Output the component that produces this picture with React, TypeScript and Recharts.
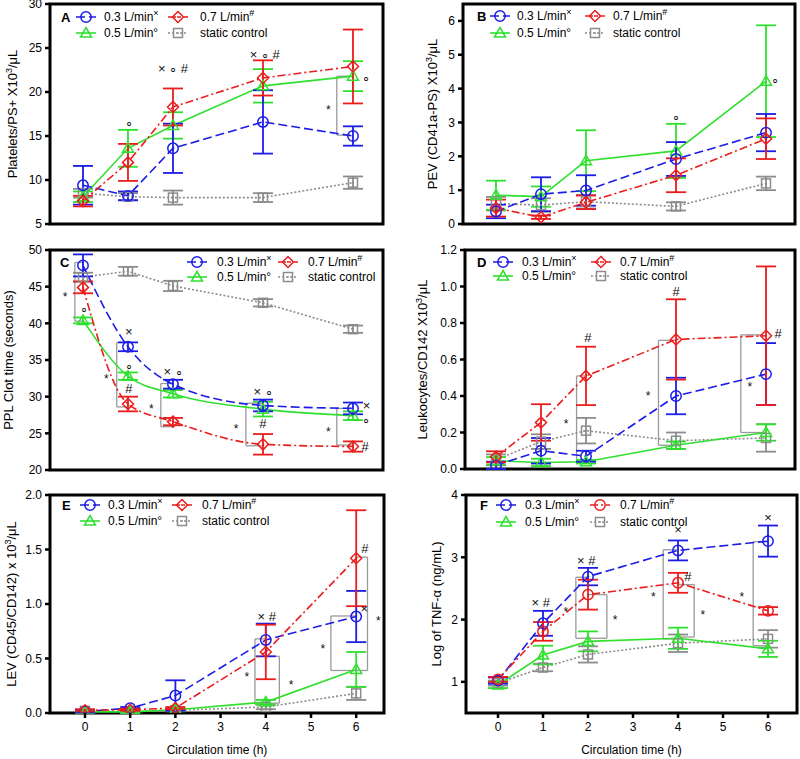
import React from "react";
import {
  ComposedChart,
  Line,
  ErrorBar,
  Scatter,
  XAxis,
  YAxis,
  ReferenceArea,
  ReferenceLine,
  Legend,
} from "recharts";

// circulation time points (h)
const times = [0, 1, 2, 4, 6];
const xTicks = [0, 1, 2, 3, 4, 5, 6];

// A - platelets/PS+
const aMean03 = [9.4, 8.2, 13.6, 16.6, 15.0];
const aErr03 = [2.2, 0.5, 2.8, 3.6, 1.1];
const aMean05 = [8.1, 13.6, 16.2, 20.7, 21.8];
const aErr05 = [0.6, 2.1, 1.5, 1.9, 1.7];
const aMean07 = [7.6, 12.0, 18.3, 21.6, 22.9];
const aErr07 = [0.6, 2.1, 2.1, 2.0, 4.2];
const aMeanSc = [8.5, 8.1, 8.0, 8.0, 9.7];
const aErrSc = [0.5, 0.4, 0.8, 0.5, 0.7];

// B - PEV
const bMean03 = [0.37, 0.88, 0.99, 1.92, 2.7];
const bErr03 = [0.2, 0.5, 0.45, 0.5, 0.55];
const bMean05 = [0.85, 0.81, 1.87, 2.16, 4.22];
const bErr05 = [0.43, 0.3, 0.9, 0.8, 1.65];
const bMean07 = [0.47, 0.2, 0.64, 1.44, 2.52];
const bErr07 = [0.25, 0.05, 0.2, 0.5, 0.6];
const bMeanSc = [0.6, 0.56, 0.66, 0.52, 1.2];
const bErrSc = [0.2, 0.2, 0.2, 0.12, 0.2];

// C - PPL clot time
const cMean03 = [47.9, 36.8, 31.7, 28.8, 28.4];
const cErr03 = [1.5, 0.6, 0.6, 0.8, 0.8];
const cMean05 = [40.4, 32.8, 30.4, 28.3, 27.4];
const cErr05 = [0.4, 0.5, 0.5, 1.0, 0.6];
const cMean07 = [44.9, 29.0, 26.6, 23.5, 23.2];
const cErr07 = [0.8, 1.0, 0.5, 1.4, 0.7];
const cMeanSc = [46.3, 47.1, 45.1, 42.8, 39.2];
const cErrSc = [0.6, 0.6, 0.7, 0.5, 0.5];

// D - leukocytes/CD142
const dMean03 = [0.02, 0.1, 0.07, 0.4, 0.52];
const dErr03 = [0.02, 0.07, 0.03, 0.1, 0.17];
const dMean05 = [0.045, 0.036, 0.04, 0.13, 0.2];
const dErr05 = [0.02, 0.02, 0.01, 0.02, 0.045];
const dMean07 = [0.067, 0.255, 0.51, 0.71, 0.73];
const dErr07 = [0.03, 0.1, 0.16, 0.22, 0.38];
const dMeanSc = [0.05, 0.15, 0.21, 0.155, 0.17];
const dErrSc = [0.03, 0.04, 0.07, 0.045, 0.075];

// E - LEV
const eMean03 = [0.015, 0.045, 0.16, 0.67, 0.885];
const eErr03 = [0.01, 0.01, 0.14, 0.15, 0.235];
const eMean05 = [0.01, 0.01, 0.03, 0.1, 0.4];
const eErr05 = [0.01, 0.01, 0.01, 0.02, 0.16];
const eMean07 = [0.025, 0.03, 0.045, 0.56, 1.42];
const eErr07 = [0.01, 0.01, 0.01, 0.25, 0.44];
const eMeanSc = [0.02, 0.01, 0.025, 0.055, 0.18];
const eErrSc = [0.01, 0.01, 0.01, 0.02, 0.06];

// F - TNF-alpha
const fMean03 = [1.02, 1.94, 2.69, 3.11, 3.26];
const fErr03 = [0.05, 0.2, 0.14, 0.16, 0.25];
const fMean05 = [0.95, 1.43, 1.65, 1.7, 1.53];
const fErr05 = [0.05, 0.15, 0.16, 0.17, 0.13];
const fMean07 = [1.04, 1.81, 2.4, 2.59, 2.14];
const fErr07 = [0.04, 0.15, 0.24, 0.16, 0.06];
const fMeanSc = [0.98, 1.23, 1.44, 1.62, 1.69];
const fErrSc = [0.04, 0.06, 0.13, 0.14, 0.14];

// significance marks (t = time, v = value where the symbol sits)
const annA = [
  { t: 2.0, v: 22.7, s: "× ∘ #" },
  { t: 1.02, v: 16.5, s: "∘" },
  { t: 4.04, v: 24.3, s: "× ∘ #" },
  { t: 6.3, v: 21.6, s: "∘" },
  { t: 5.45, v: 18.4, s: "*" },
];
const annB = [
  { t: 4.0, v: 3.17, s: "∘" },
  { t: 6.2, v: 4.28, s: "∘" },
];
const annC = [
  { t: -0.4, v: 44.2, s: "*" },
  { t: 0.02, v: 42.0, s: "∘" },
  { t: 1.02, v: 38.9, s: "×" },
  { t: 1.02, v: 34.2, s: "∘" },
  { t: 1.02, v: 31.1, s: "#" },
  { t: 0.52, v: 33.0, s: "*" },
  { t: 2.0, v: 33.5, s: "× ∘" },
  { t: 1.52, v: 28.9, s: "*" },
  { t: 4.0, v: 30.7, s: "× ∘" },
  { t: 4.0, v: 26.3, s: "#" },
  { t: 3.4, v: 26.1, s: "*" },
  { t: 6.3, v: 28.8, s: "×" },
  { t: 6.28, v: 26.9, s: "∘" },
  { t: 6.27, v: 23.2, s: "#" },
  { t: 5.45, v: 25.7, s: "*" },
];
const annD = [
  { t: 2.04, v: 0.72, s: "#" },
  { t: 4.0, v: 0.975, s: "#" },
  { t: 6.27, v: 0.74, s: "#" },
  { t: 1.56, v: 0.27, s: "*" },
  { t: 3.38, v: 0.42, s: "*" },
  { t: 5.64, v: 0.47, s: "*" },
];
const annE = [
  { t: 4.02, v: 0.885, s: "× #" },
  { t: 6.19, v: 1.51, s: "#" },
  { t: 6.18, v: 0.96, s: "×" },
  { t: 3.58, v: 0.37, s: "*" },
  { t: 4.56, v: 0.29, s: "*" },
  { t: 5.26, v: 0.626, s: "*" },
  { t: 6.49, v: 0.885, s: "*" },
];
const annF = [
  { t: 0.95, v: 2.27, s: "× #" },
  { t: 1.96, v: 2.95, s: "× #" },
  { t: 4.0, v: 3.44, s: "×" },
  { t: 4.22, v: 2.69, s: "#" },
  { t: 6.0, v: 3.64, s: "×" },
  { t: 1.51, v: 2.18, s: "*" },
  { t: 2.6, v: 2.06, s: "*" },
  { t: 3.45, v: 2.42, s: "*" },
  { t: 4.55, v: 2.14, s: "*" },
  { t: 5.42, v: 2.42, s: "*" },
];

// comparison brackets: vertical at t from y1 to y2, arms of length w
const brA = [{ t: 5.64, y1: 21.8, y2: 15.1, w: 0.3 }];
const brB: { t: number; y1: number; y2: number; w: number }[] = [];
const brC = [
  { t: -0.18, y1: 48.3, y2: 40.3, w: 0.2 },
  { t: 0.75, y1: 37.4, y2: 28.6, w: 0.25 },
  { t: 1.73, y1: 31.8, y2: 25.9, w: 0.27 },
  { t: 3.62, y1: 29.1, y2: 23.3, w: 0.38 },
  { t: 5.64, y1: 28.4, y2: 23.4, w: 0.36 },
];
const brD = [
  { t: 1.79, y1: 0.51, y2: 0.04, w: 0.22 },
  { t: 3.61, y1: 0.705, y2: 0.13, w: 0.39 },
  { t: 5.44, y1: 0.735, y2: 0.2, w: 0.5 },
];
const brE = [
  { t: 3.76, y1: 0.68, y2: 0.08, w: 0.24 },
  { t: 4.3, y1: 0.52, y2: 0.09, w: -0.3 },
  { t: 5.44, y1: 0.89, y2: 0.39, w: 0.56 },
  { t: 6.25, y1: 1.43, y2: 0.39, w: -0.25 },
];
const brF = [
  { t: 1.73, y1: 2.68, y2: 1.7, w: 0.27 },
  { t: 2.42, y1: 2.4, y2: 1.7, w: -0.42 },
  { t: 3.67, y1: 3.12, y2: 1.69, w: 0.33 },
  { t: 4.36, y1: 2.56, y2: 1.72, w: -0.36 },
  { t: 5.67, y1: 3.25, y2: 1.58, w: 0.33 },
];

const BLUE = "#1c1ce8";
const GREEN = "#2fe02f";
const RED = "#ec1c1c";
const GRAY = "#8c8c8c";
const BRACKET = "#9a9a9a";

type Shape = "circle" | "diamond" | "triangle" | "square";

const series = [
  { key: "m03", err: "e03", name: "0.3 L/min", sup: "×", color: BLUE, dash: "9 4", shape: "circle" as Shape },
  { key: "m07", err: "e07", name: "0.7 L/min", sup: "#", color: RED, dash: "8 3 2 3", shape: "diamond" as Shape },
  { key: "m05", err: "e05", name: "0.5 L/min", sup: "°", color: GREEN, dash: undefined, shape: "triangle" as Shape },
  { key: "mSc", err: "eSc", name: "static control", sup: "", color: GRAY, dash: "2 2", shape: "square" as Shape },
];
const drawOrder = [3, 2, 0, 1];

const steps = (a: number, b: number, s: number) => {
  const out: number[] = [];
  for (let v = a; v <= b + 1e-9; v += s) out.push(Math.round(v * 1000) / 1000);
  return out;
};

function Marker({ cx, cy, shape, color }: { cx?: number; cy?: number; shape: Shape; color: string }) {
  if (cx == null || cy == null || isNaN(cx) || isNaN(cy)) return null;
  const sw = 1.5;
  if (shape === "circle")
    return <circle cx={cx} cy={cy} r={5.2} fill="none" stroke={color} strokeWidth={sw} />;
  if (shape === "diamond")
    return (
      <g>
        <path d={`M${cx},${cy - 5.5}L${cx + 5.5},${cy}L${cx},${cy + 5.5}L${cx - 5.5},${cy}Z`} fill="none" stroke={color} strokeWidth={sw} />
        <circle cx={cx} cy={cy} r={1} fill={color} />
      </g>
    );
  if (shape === "triangle")
    return <path d={`M${cx},${cy - 5.5}L${cx + 5.5},${cy + 4}L${cx - 5.5},${cy + 4}Z`} fill="none" stroke={color} strokeWidth={sw} />;
  return (
    <g>
      <rect x={cx - 4.5} y={cy - 4.5} width={9} height={9} fill="none" stroke={color} strokeWidth={sw} />
      <circle cx={cx} cy={cy} r={0.9} fill={color} />
    </g>
  );
}

type Part = { t: string; sup?: boolean };

function YTitle({ px, py, parts }: { px: number; py: number; parts: Part[] }) {
  return (
    <text x={px} y={py} transform={`rotate(-90 ${px} ${py})`} textAnchor="middle" fontSize={13} fill="#000">
      {parts.map((pt, i) =>
        pt.sup ? (
          <tspan key={i} dy={-5} fontSize={9}>{pt.t}</tspan>
        ) : (
          <tspan key={i} dy={i > 0 && parts[i - 1].sup ? 5 : 0}>{pt.t}</tspan>
        )
      )}
    </text>
  );
}

function XTitle({ px, py }: { px: number; py: number }) {
  return (
    <text x={px} y={py} textAnchor="middle" fontSize={12} fill="#000">
      Circulation time (h)
    </text>
  );
}

function AnnMark(props: any) {
  const { cx, cy, payload } = props;
  if (cx == null || cy == null) return null;
  const star = payload.s === "*";
  return (
    <text x={cx} y={cy} dy={star ? 4 : 0} textAnchor="middle" dominantBaseline="central" fontSize={star ? 12 : 13} fill="#111">
      {payload.s}
    </text>
  );
}

type LegendCfg = { letterX: number; rows: number[]; icon: number[]; text: number[] };

function LegendBox({ width, height, pad, letter, cfg, redShape }: { width: number; height: number; pad: number; letter: string; cfg: LegendCfg; redShape: Shape }) {
  return (
    <svg width={width} height={height} style={{ position: "absolute", left: 0, top: 0, overflow: "visible" }}>
      <g transform={`translate(0 ${pad})`}>
        <text x={cfg.letterX} y={cfg.rows[0]} fontSize={13} fontWeight="bold" dominantBaseline="central" fill="#000">
          {letter}
        </text>
        {series.map((s, i) => {
          const row = cfg.rows[Math.floor(i / 2)];
          const c = cfg.icon[i % 2];
          const tx = cfg.text[i % 2];
          const shape = s.key === "m07" ? redShape : s.shape;
          return (
            <g key={s.key}>
              <line x1={c - 10} x2={c + 10} y1={row} y2={row} stroke={s.color} strokeWidth={1.6} strokeDasharray={s.dash} />
              <Marker cx={c} cy={row} shape={shape} color={s.color} />
              <text x={tx} y={row} dominantBaseline="central" fontSize={12} fill="#000">
                {s.name}
                {s.sup === "°" ? (
                  <tspan>°</tspan>
                ) : s.sup ? (
                  <tspan dy={-4} fontSize={9}>{s.sup}</tspan>
                ) : null}
              </text>
            </g>
          );
        })}
      </g>
    </svg>
  );
}

type Bracket = { t: number; y1: number; y2: number; w: number };

type PanelCfg = {
  letter: string;
  left: number;
  top: number;
  width: number;
  height: number;
  yWidth: number;
  right: number;
  xHeight: number;
  xDomain: [number, number];
  yDomain: [number, number];
  yTicks: number[];
  yMinor: number[];
  fmt: (v: number) => string;
  title: Part[];
  titleX: number;
  means: number[][];
  errs: number[][];
  curve: "linear" | "monotone";
  redShape: Shape;
  ann: { t: number; v: number; s: string }[];
  br: Bracket[];
  legend: LegendCfg;
  xLabels: boolean;
};

const int = (v: number) => String(v);
const one = (v: number) => v.toFixed(1);

const panels: PanelCfg[] = [
  {
    letter: "A", left: 0, top: 0, width: 400, height: 240, yWidth: 50, right: 17, xHeight: 16,
    xDomain: [-0.733, 6.667], yDomain: [5, 30], yTicks: [5, 10, 15, 20, 25, 30], yMinor: steps(5, 30, 1), fmt: int,
    title: [{ t: "Platelets/PS+ X10" }, { t: "3", sup: true }, { t: "/μL" }], titleX: 17,
    means: [aMean03, aMean07, aMean05, aMeanSc], errs: [aErr03, aErr07, aErr05, aErrSc],
    curve: "linear", redShape: "diamond", ann: annA, br: brA,
    legend: { letterX: 61, rows: [17, 33], icon: [86, 178], text: [104, 200] }, xLabels: false,
  },
  {
    letter: "B", left: 400, top: 0, width: 400, height: 240, yWidth: 63, right: 5, xHeight: 16,
    xDomain: [-0.733, 6.644], yDomain: [0, 6.5], yTicks: [0, 1, 2, 3, 4, 5, 6], yMinor: steps(0, 6.4, 0.2), fmt: int,
    title: [{ t: "PEV (CD41a-PS) X10" }, { t: "3", sup: true }, { t: "/μL" }], titleX: 37,
    means: [bMean03, bMean07, bMean05, bMeanSc], errs: [bErr03, bErr07, bErr05, bErrSc],
    curve: "linear", redShape: "diamond", ann: annB, br: brB,
    legend: { letterX: 77, rows: [16, 33], icon: [100, 195], text: [117, 213] }, xLabels: false,
  },
  {
    letter: "C", left: 0, top: 246, width: 400, height: 240, yWidth: 50, right: 17, xHeight: 16,
    xDomain: [-0.733, 6.667], yDomain: [20, 50], yTicks: [20, 25, 30, 35, 40, 45, 50], yMinor: steps(20, 50, 1), fmt: int,
    title: [{ t: "PPL Clot time (seconds)" }], titleX: 13,
    means: [cMean03, cMean07, cMean05, cMeanSc], errs: [cErr03, cErr07, cErr05, cErrSc],
    curve: "monotone", redShape: "diamond", ann: annC, br: brC,
    legend: { letterX: 60, rows: [16, 31], icon: [197, 288], text: [217, 308] }, xLabels: false,
  },
  {
    letter: "D", left: 400, top: 246, width: 400, height: 239, yWidth: 65, right: 5, xHeight: 16,
    xDomain: [-0.689, 6.644], yDomain: [0, 1.2], yTicks: [0, 0.2, 0.4, 0.6, 0.8, 1.0, 1.2], yMinor: steps(0, 1.2, 0.05), fmt: one,
    title: [{ t: "Leukocytes/CD142 X10" }, { t: "3", sup: true }, { t: "/μL" }], titleX: 27,
    means: [dMean03, dMean07, dMean05, dMeanSc], errs: [dErr03, dErr07, dErr05, dErrSc],
    curve: "linear", redShape: "diamond", ann: annD, br: brD,
    legend: { letterX: 77, rows: [16, 30], icon: [103, 201], text: [122, 220] }, xLabels: false,
  },
  {
    letter: "E", left: 0, top: 491, width: 400, height: 268, yWidth: 50, right: 16, xHeight: 46,
    xDomain: [-0.774, 6.615], yDomain: [0, 2], yTicks: [0, 0.5, 1.0, 1.5, 2.0], yMinor: steps(0, 2, 0.1), fmt: one,
    title: [{ t: "LEV (CD45/CD142) x 10" }, { t: "3", sup: true }, { t: "/μL" }], titleX: 16,
    means: [eMean03, eMean07, eMean05, eMeanSc], errs: [eErr03, eErr07, eErr05, eErrSc],
    curve: "linear", redShape: "diamond", ann: annE, br: brE,
    legend: { letterX: 62, rows: [14, 30], icon: [90, 182], text: [108, 202] }, xLabels: true,
  },
  {
    letter: "F", left: 400, top: 491, width: 400, height: 268, yWidth: 66, right: 3, xHeight: 46,
    xDomain: [-0.711, 6.644], yDomain: [0.5, 4], yTicks: [1, 2, 3, 4], yMinor: steps(0.6, 4, 0.2), fmt: int,
    title: [{ t: "Log of TNF-α (ng/mL)" }], titleX: 41,
    means: [fMean03, fMean07, fMean05, fMeanSc], errs: [fErr03, fErr07, fErr05, fErrSc],
    curve: "linear", redShape: "circle", ann: annF, br: brF,
    legend: { letterX: 80, rows: [14, 31], icon: [106, 200], text: [125, 220] }, xLabels: true,
  },
];

function Panel({ p }: { p: PanelCfg }) {
  const rows = times.map((t, i) => {
    const r: Record<string, number> = { t };
    series.forEach((s, k) => {
      r[s.key] = p.means[k][i];
      r[s.err] = p.errs[k][i];
    });
    return r;
  });
  // extra room above the frame so the top tick label is not clipped
  const pad = p.top > 0 ? 8 : 0;
  const h = p.height + pad;
  const plotH = p.height - 4 - p.xHeight;
  const cy = 4 + pad + plotH / 2;
  const plotCx = p.yWidth + (p.width - p.yWidth - p.right) / 2;
  const tickLine = { stroke: "#000", strokeWidth: 2.5 };

  return (
    <div style={{ position: "absolute", left: p.left, top: p.top - pad }}>
      <ComposedChart width={p.width} height={h} data={rows} margin={{ top: 4 + pad, right: p.right, bottom: 0, left: 0 }}>
        <XAxis
          dataKey="t"
          type="number"
          domain={p.xDomain}
          allowDataOverflow
          ticks={xTicks}
          interval={0}
          height={p.xHeight}
          axisLine={false}
          tickSize={5}
          tickLine={tickLine}
          tickMargin={4}
          tick={p.xLabels ? { fontSize: 12, fill: "#000" } : false}
          label={p.xLabels ? <XTitle px={plotCx} py={h - 5} /> : undefined}
        />
        <YAxis
          yAxisId="minor"
          type="number"
          domain={p.yDomain}
          allowDataOverflow
          ticks={p.yMinor}
          interval={0}
          width={1}
          axisLine={false}
          tick={false}
          tickSize={3}
          tickLine={{ stroke: "#000", strokeWidth: 2 }}
        />
        <YAxis
          yAxisId="main"
          type="number"
          domain={p.yDomain}
          allowDataOverflow
          ticks={p.yTicks}
          interval={0}
          width={p.yWidth - 1}
          axisLine={false}
          tickSize={5}
          tickLine={tickLine}
          tickMargin={3}
          tickFormatter={p.fmt}
          tick={{ fontSize: 12, fill: "#000" }}
          label={<YTitle px={p.titleX} py={cy} parts={p.title} />}
        />
        {p.br.flatMap((b, i) => [
          <ReferenceLine key={`bv${i}`} yAxisId="main" segment={[{ x: b.t, y: b.y1 }, { x: b.t, y: b.y2 }]} stroke={BRACKET} strokeWidth={1.3} />,
          <ReferenceLine key={`bt${i}`} yAxisId="main" segment={[{ x: b.t, y: b.y1 }, { x: b.t + b.w, y: b.y1 }]} stroke={BRACKET} strokeWidth={1.3} />,
          <ReferenceLine key={`bb${i}`} yAxisId="main" segment={[{ x: b.t, y: b.y2 }, { x: b.t + b.w, y: b.y2 }]} stroke={BRACKET} strokeWidth={1.3} />,
        ])}
        {drawOrder.map((k) => {
          const s = series[k];
          const shape = s.key === "m07" ? p.redShape : s.shape;
          return (
            <Line
              key={s.key}
              yAxisId="main"
              dataKey={s.key}
              type={s.key === "mSc" ? "linear" : p.curve}
              stroke={s.color}
              strokeWidth={1.6}
              strokeDasharray={s.dash}
              isAnimationActive={false}
              activeDot={false}
              dot={(d: any) => <Marker key={`${s.key}-${d.index}`} cx={d.cx} cy={d.cy} shape={shape} color={s.color} />}
            >
              <ErrorBar dataKey={s.err} direction="y" width={10} strokeWidth={1.8} stroke={s.color} />
            </Line>
          );
        })}
        <Scatter yAxisId="main" data={p.ann} dataKey="v" isAnimationActive={false} shape={<AnnMark />} />
        <ReferenceArea
          yAxisId="main"
          x1={p.xDomain[0]}
          x2={p.xDomain[1]}
          y1={p.yDomain[0]}
          y2={p.yDomain[1]}
          fill="none"
          fillOpacity={0}
          stroke="#000"
          strokeWidth={3}
        />
        <Legend
          layout="horizontal"
          verticalAlign="middle"
          align="center"
          wrapperStyle={{ left: 0, top: 0, width: p.width, height: h, pointerEvents: "none" }}
          content={() => <LegendBox width={p.width} height={h} pad={pad} letter={p.letter} cfg={p.legend} redShape={p.redShape} />}
        />
      </ComposedChart>
    </div>
  );
}

export default function App() {
  return (
    <div
      style={{
        position: "absolute",
        left: 0,
        top: 0,
        width: 800,
        height: 759,
        background: "#fff",
        fontFamily: "'Liberation Sans', Arial, Helvetica, sans-serif",
      }}
    >
      {panels.map((p) => (
        <Panel key={p.letter} p={p} />
      ))}
    </div>
  );
}
